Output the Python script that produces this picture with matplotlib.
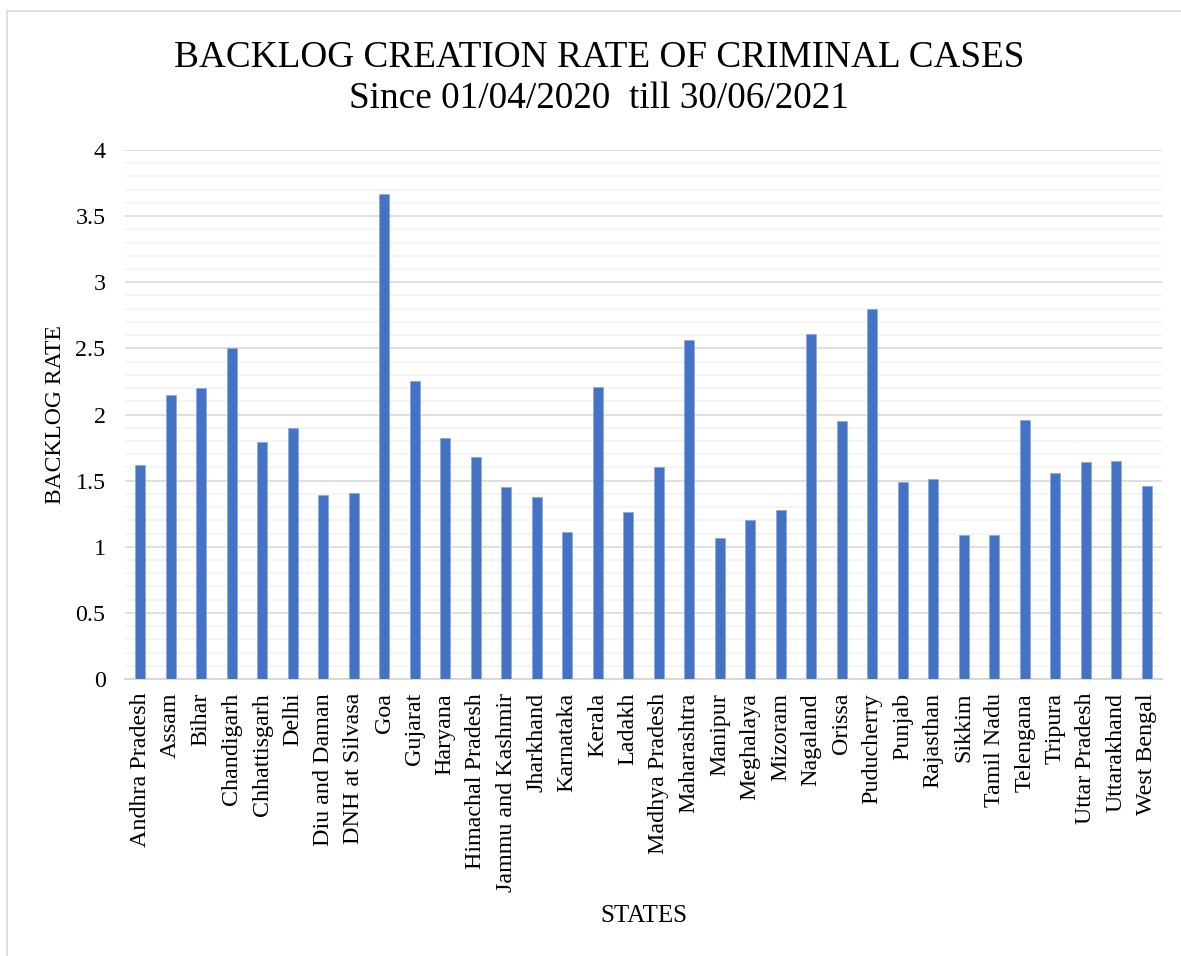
import matplotlib.pyplot as plt
import numpy as np
from matplotlib.patches import Rectangle

states = ['Andhra Pradesh', 'Assam', 'Bihar', 'Chandigarh', 'Chhattisgarh', 'Delhi',
          'Diu and Daman', 'DNH at Silvasa', 'Goa', 'Gujarat', 'Haryana',
          'Himachal Pradesh', 'Jammu and Kashmir', 'Jharkhand', 'Karnataka', 'Kerala',
          'Ladakh', 'Madhya Pradesh', 'Maharashtra', 'Manipur', 'Meghalaya', 'Mizoram',
          'Nagaland', 'Orissa', 'Puducherry', 'Punjab', 'Rajasthan', 'Sikkim',
          'Tamil Nadu', 'Telengana', 'Tripura', 'Uttar Pradesh', 'Uttarakhand',
          'West Bengal']
backlog_rate = [1.62, 2.15, 2.20, 2.50, 1.79, 1.90,
                1.39, 1.41, 3.67, 2.25, 1.82,
                1.68, 1.45, 1.38, 1.11, 2.21,
                1.26, 1.60, 2.56, 1.07, 1.20, 1.28,
                2.61, 1.95, 2.80, 1.49, 1.51, 1.09,
                1.09, 1.96, 1.56, 1.64, 1.65,
                1.46]
y_ticks = [0, 0.5, 1, 1.5, 2, 2.5, 3, 3.5, 4]

plt.rcParams['font.family'] = ['Liberation Serif', 'DejaVu Serif']

fig = plt.figure(figsize=(11.81, 9.56), dpi=100)
ax = fig.add_axes([0.1058, 0.2897, 0.8781, 0.5534])

# chart-area frame (only left and top edges fall inside the image)
fig.patches.append(Rectangle((0.0059, -0.1), 1.2, 1.0885, transform=fig.transFigure,
                             fill=False, edgecolor='#D9D9D9', linewidth=1.2))

x = np.arange(len(states))
ax.bar(x, backlog_rate, width=0.32, color='#4472C4', edgecolor='#8FAADC',
       linewidth=0.6, zorder=3)

ax.set_xlim(-0.5, len(states) - 0.5)
ax.set_ylim(0, 4)
ax.set_yticks(y_ticks)
ax.set_yticklabels([f'{t:g}' for t in y_ticks])
ax.set_yticks(np.arange(0, 4.01, 0.1), minor=True)
ax.grid(axis='y', which='major', color='#D9D9D9', linewidth=1.2, zorder=1)
ax.grid(axis='y', which='minor', color='#F2F2F2', linewidth=1.2, zorder=0)

ax.set_xticks(x)
ax.set_xticklabels(states, rotation=90)

for side in ['top', 'right', 'left']:
    ax.spines[side].set_visible(False)
ax.spines['bottom'].set_color('#D9D9D9')
ax.spines['bottom'].set_linewidth(1.5)
ax.tick_params(axis='both', which='both', length=0, labelsize=17.3, colors='black')
ax.tick_params(axis='y', pad=14)
ax.tick_params(axis='x', pad=10)

ax.set_ylabel('BACKLOG RATE', fontsize=17)
ax.yaxis.set_label_coords(-0.057, 0.5)
ax.set_xlabel('STATES', fontsize=18)
ax.xaxis.set_label_coords(0.5, -0.427)

fig.text(0.507, 0.9299, 'BACKLOG CREATION RATE OF CRIMINAL CASES',
         ha='center', va='baseline', fontsize=26.8)
fig.text(0.507, 0.887, 'Since 01/04/2020  till 30/06/2021',
         ha='center', va='baseline', fontsize=26.8)

fig.savefig('out.png', dpi=100)
